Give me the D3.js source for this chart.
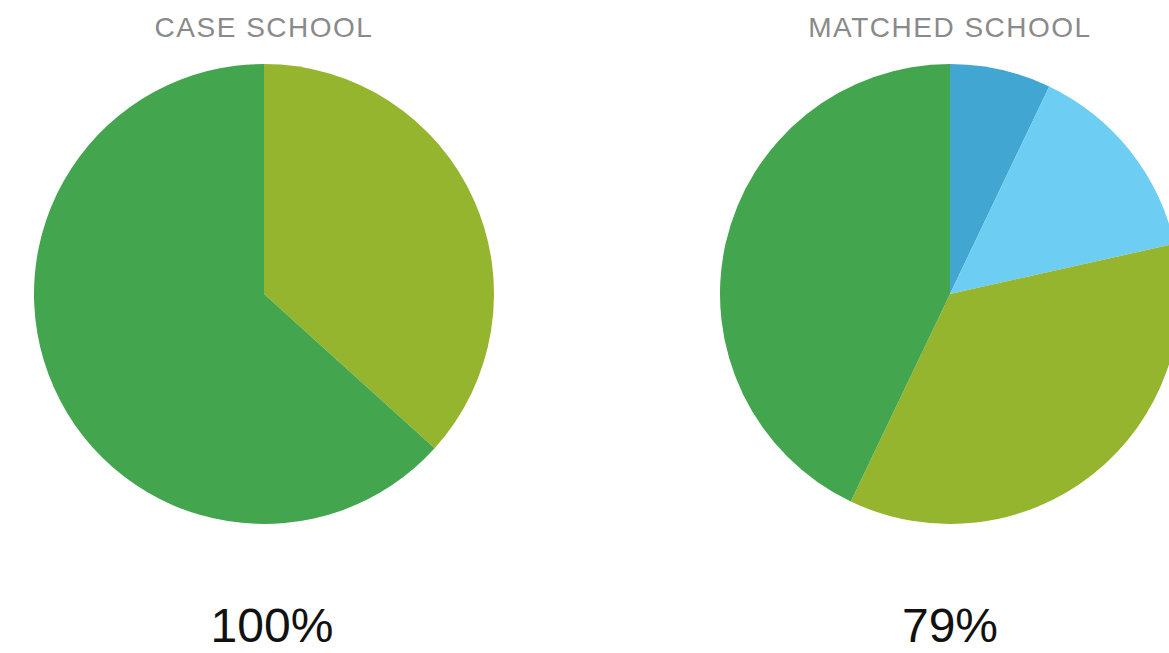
<!DOCTYPE html>
<html><head><meta charset="utf-8">
<script src="https://cdn.jsdelivr.net/npm/d3@7"></script>
<style>html,body{margin:0;padding:0;background:#fff;overflow:hidden}</style>
</head><body>
<svg id="chart" width="1169" height="653"></svg>
<script>
const categories = ["Category A", "Category B", "Category C", "Category D"];
const caseValues = [0, 0, 36.7, 63.3];
const matchedValues = [7.1, 14.4, 35.6, 42.9];
const titles = ["CASE SCHOOL", "MATCHED SCHOOL"];
const totals = ["100%", "79%"];
const colors = ["#42a6d3", "#6ecdf2", "#95b52e", "#43a54e"];

const svg = d3.select("#chart");
const color = d3.scaleOrdinal().domain(categories).range(colors);
const pie = d3.pie().sort(null).value(d => d.v);
const arc = d3.arc().innerRadius(0).outerRadius(230);

const panels = [
  {title: titles[0], total: totals[0], values: caseValues, cx: 264, tx: 272},
  {title: titles[1], total: totals[1], values: matchedValues, cx: 950, tx: 950}
];
panels.forEach(p => {
  const data = categories.map((c, i) => ({c, v: p.values[i]})).filter(d => d.v > 0);
  const g = svg.append("g").attr("transform", `translate(${p.cx},294)`);
  g.selectAll("path").data(pie(data)).join("path")
    .attr("d", arc).attr("fill", d => color(d.data.c));
  svg.append("text").attr("x", p.cx).attr("y", 37).attr("text-anchor", "middle")
    .attr("font-family", "Liberation Sans, Arial, sans-serif").attr("font-size", 28)
    .attr("letter-spacing", 1.5).attr("fill", "#8a8a8a").text(p.title);
  svg.append("text").attr("x", p.tx).attr("y", 642).attr("text-anchor", "middle")
    .attr("font-family", "Liberation Sans, Arial, sans-serif").attr("font-size", 48)
    .attr("fill", "#111").text(p.total);
});
</script>
</body></html>
